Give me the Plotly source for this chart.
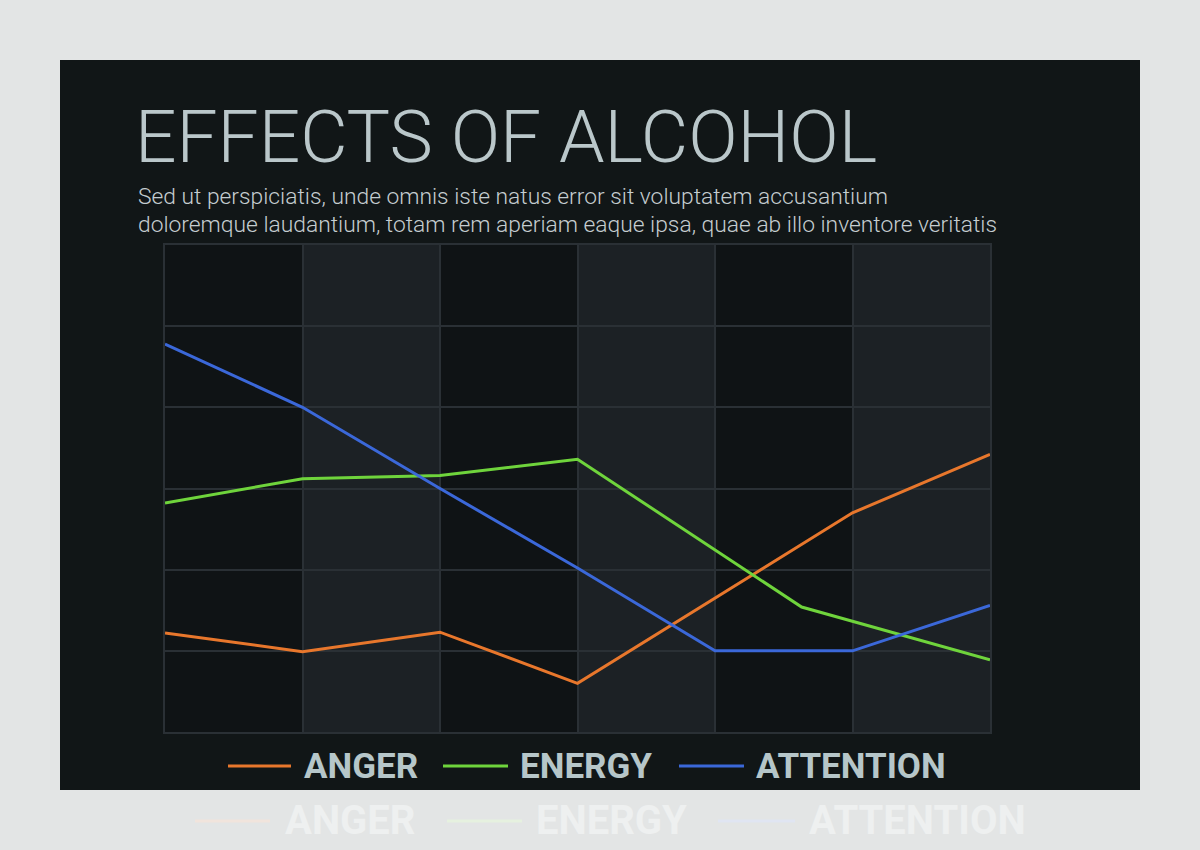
import plotly.graph_objects as go

# ---- data ----
series_names = ["ANGER", "ENERGY", "ATTENTION"]
series_colors = ["#e8772c", "#6fd43c", "#3b68d9"]
anger_x = [0, 1, 2, 3, 5, 6]
anger_y = [1.22, 0.99, 1.23, 0.60, 2.70, 3.42]
energy_x = [0, 1, 2, 3, 4.63, 6]
energy_y = [2.82, 3.12, 3.16, 3.36, 1.54, 0.89]
attention_x = [0, 1, 2, 3, 4, 5, 6]
attention_y = [4.78, 4.00, 3.00, 2.02, 1.00, 1.00, 1.56]
columns = [0, 1, 2, 3, 4, 5]

title = "EFFECTS OF ALCOHOL"
subtitle_lines = ["Sed ut perspiciatis, unde omnis iste natus error sit voluptatem accusantium",
                  "doloremque laudantium, totam rem aperiam eaque ipsa, quae ab illo inventore veritatis"]

W, H = 1200, 850
def px(x): return x / W
def py(y): return 1 - y / H

LEGFONT = "Roboto"

fig = go.Figure()
for name, xs, ys, c in zip(series_names, [anger_x, energy_x, attention_x],
                           [anger_y, energy_y, attention_y], series_colors):
    fig.add_trace(go.Scatter(x=xs, y=ys, mode="lines", name=name,
                             line=dict(color=c, width=3), showlegend=False))

shapes = []
# panel
shapes.append(dict(type="rect", xref="paper", yref="paper", x0=px(60), x1=px(1140),
                   y0=py(790), y1=py(60), fillcolor="#111617", line=dict(width=0), layer="below"))
# alternating column shading
for i in columns:
    shapes.append(dict(type="rect", xref="x", yref="y", x0=i, x1=i + 1, y0=0, y1=6,
                       fillcolor="#1c2125" if i % 2 == 1 else "#0f1315",
                       line=dict(width=0), layer="below"))

annotations = [
    dict(text=title, xref="paper", yref="paper", x=px(133), y=py(137), xanchor="left", yanchor="middle",
         showarrow=False, font=dict(family="Roboto", size=73, color="#bac7ca", weight=300)),
]
for k, line in enumerate(subtitle_lines):
    annotations.append(dict(text=line, xref="paper", yref="paper", x=px(136), y=py(196 + 28 * k),
                            xanchor="left", yanchor="middle", showarrow=False,
                            font=dict(family="Roboto", size=22.8, color="#c5cdd0", weight=300)))

# custom legend (inside panel) and its faint reflection below the panel
leg_line_x = [(228, 291), (443, 508), (679, 744)]
leg_text_x = [302, 518, 754]
refl_line_x = [(195, 270), (447, 522), (718, 795)]
refl_text_x = [283, 534, 807]
refl_colors = ["#f1e4dc", "#e6f1df", "#e0e5f2"]
for i, name in enumerate(series_names):
    shapes.append(dict(type="line", xref="paper", yref="paper", x0=px(leg_line_x[i][0]),
                       x1=px(leg_line_x[i][1]), y0=py(766), y1=py(766),
                       line=dict(color=series_colors[i], width=3)))
    annotations.append(dict(text=name, xref="paper", yref="paper", x=px(leg_text_x[i]), y=py(766),
                            xanchor="left", yanchor="middle", showarrow=False,
                            font=dict(family=LEGFONT, size=35, color="#b6c6c9", weight=700)))
    shapes.append(dict(type="line", xref="paper", yref="paper", x0=px(refl_line_x[i][0]),
                       x1=px(refl_line_x[i][1]), y0=py(821), y1=py(821),
                       line=dict(color=refl_colors[i], width=3)))
    annotations.append(dict(text=name, xref="paper", yref="paper", x=px(refl_text_x[i]), y=py(820),
                            xanchor="left", yanchor="middle", showarrow=False,
                            font=dict(family=LEGFONT, size=40, color="#eef0f0", weight=700)))

axis_common = dict(range=[0, 6], dtick=1, tick0=0, showticklabels=False, ticks="",
                   showgrid=True, gridcolor="#2a3035", gridwidth=2, zeroline=False,
                   showline=True, linecolor="#2a3035", linewidth=2, mirror=True, fixedrange=True)

fig.update_layout(
    width=W, height=H,
    margin=dict(l=0, r=0, t=0, b=0),
    paper_bgcolor="#e3e5e5",
    plot_bgcolor="rgba(0,0,0,0)",
    xaxis=dict(domain=[px(165), px(990)], **axis_common),
    yaxis=dict(domain=[py(732), py(245)], **axis_common),
    shapes=shapes,
    annotations=annotations,
    showlegend=False,
)

fig.write_html("out.html")
